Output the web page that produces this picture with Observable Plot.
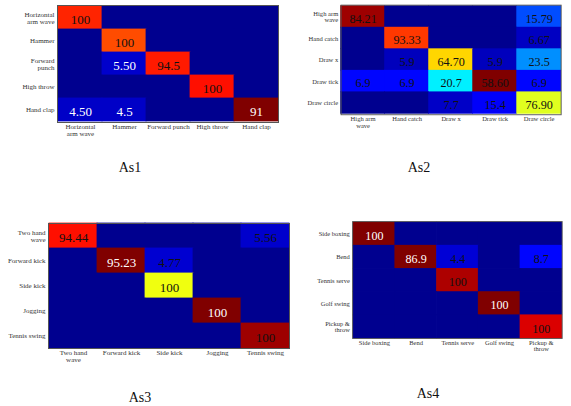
<!DOCTYPE html>
<html>
<head>
<meta charset="utf-8">
<script src="https://cdn.jsdelivr.net/npm/d3@7"></script>
<script src="https://cdn.jsdelivr.net/npm/@observablehq/plot@0.6"></script>
<style>
  html, body { margin: 0; padding: 0; background: #fff; }
  #page { position: relative; width: 571px; height: 406px; overflow: hidden; background: #fff; font-family: "Liberation Serif", serif; }
  .panel { position: absolute; }
  .title { position: absolute; font-family: "Liberation Serif", serif; font-size: 14px; color: #111; transform: translateX(-50%); white-space: nowrap; }
</style>
</head>
<body>
<div id="page"></div>
<script>
// ---- Data ----
const as1Classes = ["Horizontal\narm wave", "Hammer", "Forward\npunch", "High throw", "Hand clap"];
const as1XLabels = ["Horizontal\narm wave", "Hammer", "Forward punch", "High throw", "Hand clap"];
const as1Values = [
  ["100", "", "", "", ""],
  ["", "100", "", "", ""],
  ["", "5.50", "94.5", "", ""],
  ["", "", "", "100", ""],
  ["4.50", "4.5", "", "", "91"]
];

const as2Classes = ["High arm\nwave", "Hand catch", "Draw x", "Draw tick", "Draw circle"];
const as2XLabels = ["High arm\nwave", "Hand catch", "Draw x", "Draw tick", "Draw circle"];
const as2Values = [
  ["84.21", "", "", "", "15.79"],
  ["", "93.33", "", "", "6.67"],
  ["", "5.9", "64.70", "5.9", "23.5"],
  ["6.9", "6.9", "20.7", "58.60", "6.9"],
  ["", "", "7.7", "15.4", "76.90"]
];

const as3Classes = ["Two hand\nwave", "Forward kick", "Side kick", "Jogging", "Tennis swing"];
const as3XLabels = ["Two hand\nwave", "Forward kick", "Side kick", "Jogging", "Tennis swing"];
const as3Values = [
  ["94.44", "", "", "", "5.56"],
  ["", "95.23", "4.77", "", ""],
  ["", "", "100", "", ""],
  ["", "", "", "100", ""],
  ["", "", "", "", "100"]
];

const as4Classes = ["Side boxing", "Bend", "Tennis serve", "Golf swing", "Pickup &\nthrow"];
const as4XLabels = ["Side boxing", "Bend", "Tennis serve", "Golf swing", "Pickup &\nthrow"];
const as4Values = [
  ["100", "", "", "", ""],
  ["", "86.9", "4.4", "", "8.7"],
  ["", "", "100", "", ""],
  ["", "", "", "100", ""],
  ["", "", "", "", "100"]
];

const panelNames = ["As1", "As2", "As3", "As4"];

// ---- Colour (jet colormap position per cell, as seen) ----
const bg = 0.015;
const as1Jet = [
  [0.84, bg, bg, bg, bg],
  [bg, 0.80, bg, bg, bg],
  [bg, 0.075, 0.85, bg, bg],
  [bg, bg, bg, 0.86, bg],
  [0.07, 0.07, bg, bg, 1.0]
];
const as2Jet = [
  [0.97, bg, bg, bg, 0.20],
  [bg, 0.82, bg, bg, 0.065],
  [bg, 0.06, 0.665, 0.06, 0.265],
  [0.13, 0.13, 0.36, 1.0, 0.13],
  [bg, bg, 0.07, 0.12, 0.595]
];
const as3Jet = [
  [0.86, bg, bg, bg, 0.075],
  [bg, 1.0, 0.08, bg, bg],
  [bg, bg, 0.61, bg, bg],
  [bg, bg, bg, 1.0, bg],
  [bg, bg, bg, bg, 0.97]
];
const as4Jet = [
  [1.0, bg, bg, bg, bg],
  [bg, 1.0, 0.085, bg, 0.13],
  [bg, bg, 0.955, bg, bg],
  [bg, bg, bg, 1.0, bg],
  [bg, bg, bg, bg, 0.91]
];
// label ink: 1 = white, 0 = black
const as1Ink = [[0,0,0,0,0],[0,0,0,0,0],[0,1,0,0,0],[0,0,0,0,0],[1,1,0,0,1]];
const as2Ink = [[0,0,0,0,0],[0,0,0,0,0],[0,0,0,0,0],[0,0,0,0,0],[0,0,0,0,0]];
const as3Ink = [[0,0,0,0,0],[0,1,0,0,0],[0,0,0,0,0],[0,0,0,1,0],[0,0,0,0,0]];
const as4Ink = [[1,0,0,0,0],[0,1,0,0,0],[0,0,0,0,0],[0,0,0,1,0],[0,0,0,0,0]];

function jet(t) {
  const c = v => Math.max(0, Math.min(1, v));
  const r = c(Math.min(4 * t - 1.5, -4 * t + 4.5));
  const g = c(Math.min(4 * t - 0.5, -4 * t + 3.5));
  const b = c(Math.min(4 * t + 0.5, -4 * t + 2.5));
  return d3.rgb(r * 255, g * 255, b * 255).formatHex();
}

const layouts = [
  {left: 0,   top: 0,   width: 290, height: 145, mt: 5,  mr: 12, mb: 23, ml: 57, title: [130, 160]},
  {left: 290, top: 0,   width: 300, height: 145, mt: 5,  mr: 11, mb: 23, ml: 54, title: [419, 160]},
  {left: 0,   top: 210, width: 300, height: 163, mt: 13, mr: 11, mb: 25, ml: 48, title: [140, 390]},
  {left: 290, top: 210, width: 303, height: 163, mt: 12, mr: 10, mb: 25, ml: 67, title: [428, 386]}
];

const panels = [
  {classes: as1Classes, xl: as1XLabels, values: as1Values, jetv: as1Jet, ink: as1Ink},
  {classes: as2Classes, xl: as2XLabels, values: as2Values, jetv: as2Jet, ink: as2Ink},
  {classes: as3Classes, xl: as3XLabels, values: as3Values, jetv: as3Jet, ink: as3Ink},
  {classes: as4Classes, xl: as4XLabels, values: as4Values, jetv: as4Jet, ink: as4Ink}
];

const page = document.getElementById("page");

panels.forEach((p, i) => {
  const L = layouts[i];
  const cells = [];
  p.values.forEach((row, r) => row.forEach((v, c) => {
    cells.push({row: p.classes[r], col: c, label: v, level: p.jetv[r][c], white: p.ink[r][c] === 1});
  }));
  const chart = Plot.plot({
    width: L.width, height: L.height,
    marginTop: L.mt, marginRight: L.mr, marginBottom: L.mb, marginLeft: L.ml,
    style: {fontFamily: "Liberation Serif, serif", fontSize: "7px", background: "transparent", color: "#333"},
    x: {domain: [0, 1, 2, 3, 4], padding: 0},
    y: {domain: p.classes, padding: 0},
    color: {type: "linear", domain: [0, 1], interpolate: jet},
    marks: [
      Plot.cell(cells, {x: "col", y: "row", fill: "level", inset: -0.4}),
      Plot.text(cells.filter(d => d.label !== ""), {
        x: "col", y: "row", text: "label",
        fill: d => d.white ? "#ffffff" : "#111111",
        fontSize: 13, dy: 2, fontFamily: "Liberation Serif, serif"
      }),
      Plot.frame({stroke: "#555", strokeWidth: 1}),
      Plot.axisX({tickSize: 0, tickPadding: 2, fontSize: 7, label: null, fill: "#333", fontFamily: "Liberation Serif, serif", tickFormat: c => p.xl[c]}),
      Plot.axisY({tickSize: 0, tickPadding: 3, fontSize: 7, label: null, fill: "#333", fontFamily: "Liberation Serif, serif"})
    ]
  });
  const div = document.createElement("div");
  div.className = "panel";
  div.style.left = L.left + "px";
  div.style.top = L.top + "px";
  div.appendChild(chart);
  page.appendChild(div);

  const t = document.createElement("div");
  t.className = "title";
  t.style.left = L.title[0] + "px";
  t.style.top = L.title[1] + "px";
  t.textContent = panelNames[i];
  page.appendChild(t);
});
</script>
</body>
</html>
